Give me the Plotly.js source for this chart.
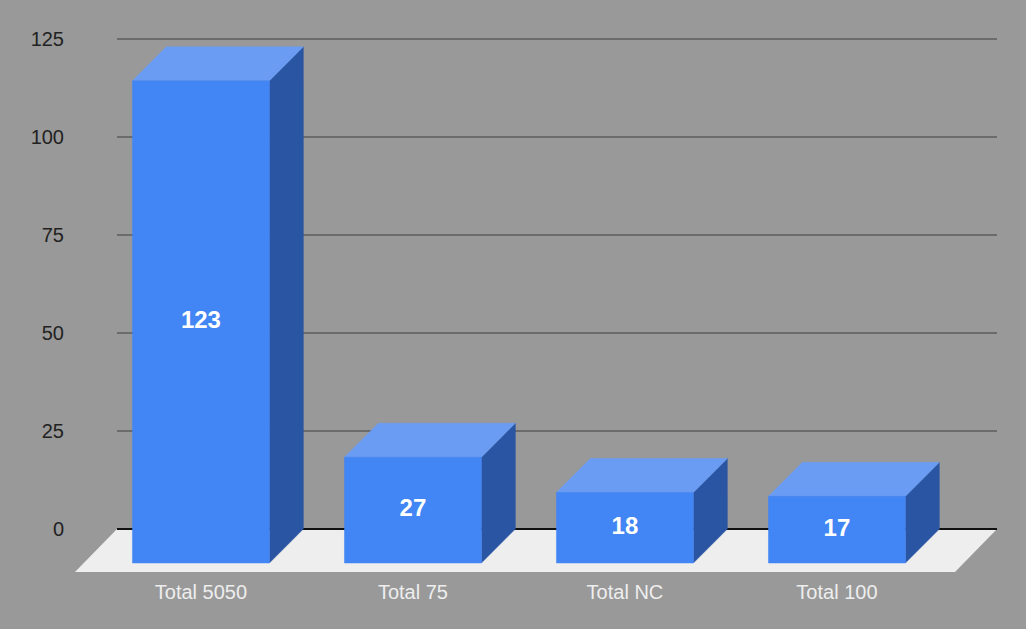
<!DOCTYPE html>
<html><head><meta charset="utf-8">
<script src="https://cdn.plot.ly/plotly-3.0.1.min.js"></script>
<style>html,body{margin:0;padding:0;background:#999999;}</style>
</head><body><div id="chart" style="width:1026px;height:629px;"></div>
<script>
const categories = ["Total 5050", "Total 75", "Total NC", "Total 100"];
const values = [123, 27, 18, 17];
const yTicks = [0, 25, 50, 75, 100, 125];

// 3D geometry constants (axis units)
const BAR_W = 0.646;          // front face width (category units)
const DX = 0.16, DY = 8.67;   // bar depth offset
const FDX = 0.198, FDY = 10.97; // floor depth offset
const X_MIN = -0.594, X_MAX = 3.755;
const Y_MIN = -11.99, Y_MAX = 129.85;
const FLOOR_BACK_L = X_MIN + FDX;

const C_FRONT = '#4285f4', C_TOP = '#6a9cf4', C_SIDE = '#2a55a2';

const traces = [];
// gridlines on back plane
const gx = [], gy = [];
yTicks.filter(t => t > 0).forEach(t => { gx.push(FLOOR_BACK_L, X_MAX, null); gy.push(t, t, null); });
traces.push({type:'scatter', mode:'lines', x:gx, y:gy, line:{color:'#6b6b6b', width:2}, hoverinfo:'skip'});
// floor
traces.push({type:'scatter', mode:'lines', fill:'toself', fillcolor:'#eeeeee', line:{width:0, color:'#eeeeee'},
  x:[FLOOR_BACK_L, X_MAX, X_MAX - FDX, X_MIN, FLOOR_BACK_L], y:[0, 0, -FDY, -FDY, 0], hoverinfo:'skip'});
// zero line
traces.push({type:'scatter', mode:'lines', x:[FLOOR_BACK_L, X_MAX], y:[0, 0], line:{color:'#111111', width:2}, hoverinfo:'skip'});

function poly(xs, ys, color) {
  traces.push({type:'scatter', mode:'lines', fill:'toself', fillcolor:color, line:{width:0.5, color:color},
    x:xs.concat([xs[0]]), y:ys.concat([ys[0]]), hoverinfo:'skip'});
}
values.forEach((v, i) => {
  const l = i - BAR_W / 2, r = i + BAR_W / 2;
  // side
  poly([r, r + DX, r + DX, r], [v - DY, v, 0, -DY], C_SIDE);
  // top
  poly([l, r, r + DX, l + DX], [v - DY, v - DY, v, v], C_TOP);
  // front
  poly([l, r, r, l], [-DY, -DY, v - DY, v - DY], C_FRONT);
});
// data labels
traces.push({type:'scatter', mode:'text', x:values.map((v, i) => i), y:values.map(v => v / 2 - DY),
  text:values.map(String), textposition:'middle center',
  textfont:{family:'Liberation Sans, Arial, sans-serif', size:24, color:'#ffffff', weight:'bold'}, hoverinfo:'skip'});

const layout = {
  width:1026, height:629,
  paper_bgcolor:'#999999', plot_bgcolor:'#999999',
  showlegend:false,
  margin:{l:75, r:29, t:20, b:53},
  xaxis:{range:[X_MIN, X_MAX], tickvals:categories.map((c, i) => i), ticktext:categories,
    showgrid:false, zeroline:false, showline:false, ticks:'', ticklabelstandoff:2,
    tickfont:{family:'Liberation Sans, Arial, sans-serif', size:20, color:'#eeeeee'}, fixedrange:true},
  yaxis:{range:[Y_MIN, Y_MAX], tickvals:yTicks, ticktext:yTicks.map(String),
    showgrid:false, zeroline:false, showline:false, ticks:'', ticklabelstandoff:10,
    tickfont:{family:'Liberation Sans, Arial, sans-serif', size:20, color:'#222222'}, fixedrange:true},
  hovermode:false
};
Plotly.newPlot('chart', traces, layout, {displayModeBar:false, staticPlot:true});
</script></body></html>
